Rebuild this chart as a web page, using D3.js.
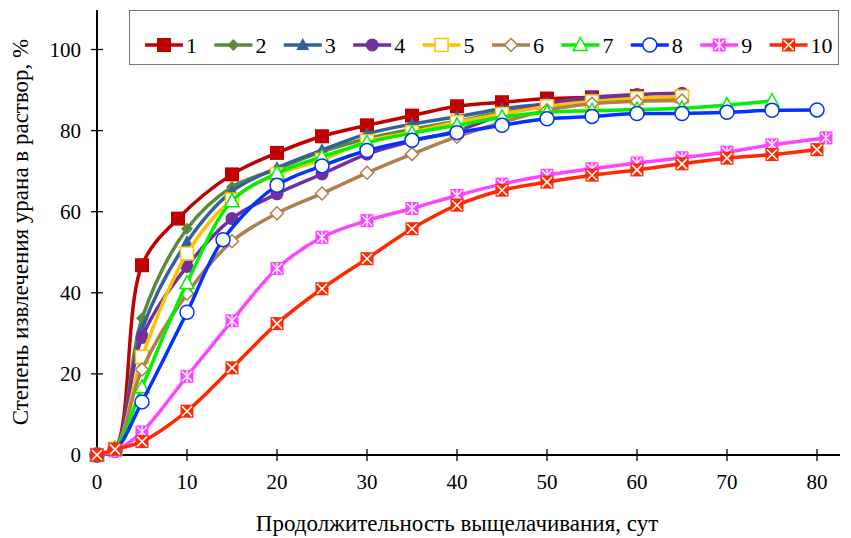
<!DOCTYPE html>
<html><head><meta charset="utf-8">
<script src="https://cdn.jsdelivr.net/npm/d3@7"></script>
<style>body{margin:0;background:#fff}svg{display:block}</style>
</head><body>
<svg id="c" width="851" height="538"></svg>
<script>
// ---- data ----
const seriesNames = ["1","2","3","4","5","6","7","8","9","10"];
const s1x = [0,2,5,9,15,20,25,30,35,40,45,50,55,60];
const s1y = [0,1.5,46.8,58.3,69.2,74.5,78.6,81.3,83.7,86,87,87.9,88.2,88.5];
const s2x = [0,2,5,10,15,20,25,30,35,40,45,50,55,60,65];
const s2y = [0,1.5,33.7,55.8,66.1,70.5,74.8,78,80.3,82.3,84.5,85.8,86.8,87.4,87.8];
const s3x = [0,2,5,10,15,20,25,30,35,40,45,50,55,60,65];
const s3y = [0,1.5,31,52.5,65,70.8,75.2,79.2,81.6,83.4,85.4,86.6,87.5,88,88.4];
const s4x = [0,2,5,10,15,20,25,30,35,40,45,50,55,60,65];
const s4y = [0,1.5,29,46.5,58.3,64.4,69.3,74.2,77.4,80,83.8,86.7,88.2,88.9,89.2];
const s5x = [0,2,5,10,15,20,25,30,35,40,45,50,55,60,65];
const s5y = [0,1.5,24.2,49.7,63,69.2,72.8,77.4,79.6,82.1,84.1,86,87.2,88,88.4];
const s6x = [0,2,5,10,15,20,25,30,35,40,45,50,55,60,65];
const s6y = [0,1.5,21.1,39.8,52.7,59.6,64.5,69.6,74.2,78.5,82,85,86.6,87.2,87.4];
const s7x = [0,2,5,10,15,20,25,30,35,40,45,50,55,60,65,70,75];
const s7y = [0,1.5,16.7,42.4,62.6,69.5,73.5,77,79.4,81.3,83.3,84.5,84.9,85.2,85.5,86.3,87.3];
const s8x = [0,2,5,10,14,20,25,30,35,40,45,50,55,60,65,70,75,80];
const s8y = [0,1.2,13.1,35.2,53.1,66.5,71.3,75.1,77.6,79.5,81.3,82.9,83.5,84.2,84.2,84.5,85,85.1];
const s9x = [0,2,5,10,15,20,25,30,35,40,45,50,55,60,65,70,75,81];
const s9y = [0,1,5.7,19.4,33.1,46,53.7,57.8,60.8,64,66.8,69,70.6,72,73.3,74.7,76.5,78.2];
const s10x = [0,2,5,10,15,20,25,30,35,40,45,50,55,60,65,70,75,80];
const s10y = [0,1.4,3.3,10.8,21.5,32.4,41,48.4,55.8,61.6,65.3,67.3,69,70.3,71.8,73.2,74.1,75.3];
const xTicks = [0,10,20,30,40,50,60,70,80];
const yTicks = [0,20,40,60,80,100];
const xTitle = "Продолжительность выщелачивания, сут";
const yTitle = "Степень извлечения урана в раствор, %";

// ---- styles ----
const colors = ["#C00000","#5A8A3C","#35609A","#7030A0","#FFC000","#B0804C","#00F000","#0033FF","#FF44FF","#FF2A00"];
const markers = ["square","diamond","triangle","circle","osquare","odiamond","otriangle","ocircle","star","xsq"];
const xs = [s1x,s2x,s3x,s4x,s5x,s6x,s7x,s8x,s9x,s10x];
const ys = [s1y,s2y,s3y,s4y,s5y,s6y,s7y,s8y,s9y,s10y];

const svg = d3.select("#c");
const x = d3.scaleLinear().domain([0,80]).range([97,817]);
const y = d3.scaleLinear().domain([0,100]).range([455,49.5]);
const font = "'Liberation Serif','Times New Roman',serif";

// axes
const gx = svg.append("g").attr("transform","translate(0,455)");
gx.append("line").attr("x1",97).attr("x2",840).attr("stroke","#000").attr("stroke-width",2);
xTicks.forEach(t=>{
  gx.append("line").attr("x1",x(t)).attr("x2",x(t)).attr("y1",-6).attr("y2",6).attr("stroke","#000").attr("stroke-width",1.3);
  gx.append("text").attr("x",x(t)).attr("y",34).attr("text-anchor","middle").attr("font-family",font).attr("font-size",21).text(t);
});
const gy = svg.append("g").attr("transform","translate(97,0)");
gy.append("line").attr("y1",455).attr("y2",10).attr("stroke","#000").attr("stroke-width",2);
yTicks.forEach(t=>{
  gy.append("line").attr("y1",y(t)).attr("y2",y(t)).attr("x1",-6).attr("x2",6).attr("stroke","#000").attr("stroke-width",1.3);
  gy.append("text").attr("x",-16).attr("y",y(t)+7).attr("text-anchor","end").attr("font-family",font).attr("font-size",21).text(t);
});
svg.append("text").attr("x",457).attr("y",531).attr("text-anchor","middle").attr("font-family",font).attr("font-size",23).text(xTitle);
svg.append("text").attr("transform","translate(28,232) rotate(-90)").attr("text-anchor","middle").attr("font-family",font).attr("font-size",23).text(yTitle);

function drawMarker(g, type, cx, cy, col){
  if(type==="square"){
    g.append("rect").attr("x",cx-7).attr("y",cy-7).attr("width",14).attr("height",14).attr("fill",col);
  } else if(type==="osquare"){
    g.append("rect").attr("x",cx-6.5).attr("y",cy-6.5).attr("width",13).attr("height",13).attr("fill","#fff").attr("stroke",col).attr("stroke-width",1.5);
  } else if(type==="diamond"){
    g.append("path").attr("d",`M${cx},${cy-6}L${cx+6},${cy}L${cx},${cy+6}L${cx-6},${cy}Z`).attr("fill",col);
  } else if(type==="odiamond"){
    g.append("path").attr("d",`M${cx},${cy-6.5}L${cx+6.5},${cy}L${cx},${cy+6.5}L${cx-6.5},${cy}Z`).attr("fill","#fff").attr("stroke",col).attr("stroke-width",1.5);
  } else if(type==="triangle"){
    g.append("path").attr("d",`M${cx},${cy-7}L${cx+6.5},${cy+5}L${cx-6.5},${cy+5}Z`).attr("fill",col);
  } else if(type==="otriangle"){
    g.append("path").attr("d",`M${cx},${cy-7.5}L${cx+7},${cy+5.5}L${cx-7},${cy+5.5}Z`).attr("fill","#fff").attr("stroke",col).attr("stroke-width",1.5);
  } else if(type==="circle"){
    g.append("circle").attr("cx",cx).attr("cy",cy).attr("r",6.5).attr("fill",col);
  } else if(type==="ocircle"){
    g.append("circle").attr("cx",cx).attr("cy",cy).attr("r",7).attr("fill","#fff").attr("stroke",col).attr("stroke-width",1.5);
  } else if(type==="star"){
    g.append("rect").attr("x",cx-6.5).attr("y",cy-6.5).attr("width",13).attr("height",13).attr("fill",col);
    const p = `M${cx-5},${cy-5}L${cx+5},${cy+5}M${cx+5},${cy-5}L${cx-5},${cy+5}M${cx},${cy-6}L${cx},${cy+6}`;
    g.append("path").attr("d",p).attr("stroke","#fff").attr("stroke-width",1.3).attr("fill","none");
  } else if(type==="xsq"){
    g.append("rect").attr("x",cx-6.5).attr("y",cy-6.5).attr("width",13).attr("height",13).attr("fill",col);
    const p = `M${cx-5},${cy-5}L${cx+5},${cy+5}M${cx+5},${cy-5}L${cx-5},${cy+5}`;
    g.append("path").attr("d",p).attr("stroke","#fff").attr("stroke-width",1.6).attr("fill","none");
  }
}

const line = d3.line().x(d=>x(d[0])).y(d=>y(d[1])).curve(d3.curveCatmullRom.alpha(0.5));
seriesNames.forEach((n,i)=>{
  const pts = xs[i].map((v,j)=>[v, ys[i][j]]);
  const g = svg.append("g");
  g.append("path").attr("d",line(pts)).attr("fill","none").attr("stroke",colors[i]).attr("stroke-width",3.5).attr("stroke-linejoin","round");
  pts.forEach(p=>drawMarker(g, markers[i], x(p[0]), y(p[1]), colors[i]));
});

// legend
const lg = svg.append("g");
lg.append("rect").attr("x",129.5).attr("y",10.5).attr("width",709).attr("height",54).attr("fill","#fff").attr("stroke","#777").attr("stroke-width",1);
seriesNames.forEach((n,i)=>{
  const cx = 164 + i*69.4, cy = 45;
  const g = lg.append("g");
  g.append("line").attr("x1",cx-19).attr("x2",cx+19).attr("y1",cy).attr("y2",cy).attr("stroke",colors[i]).attr("stroke-width",3.5);
  drawMarker(g, markers[i], cx, cy, colors[i]);
  g.append("text").attr("x",cx+22).attr("y",cy+8).attr("font-family",font).attr("font-size",22).text(n);
});
</script>
</body></html>
